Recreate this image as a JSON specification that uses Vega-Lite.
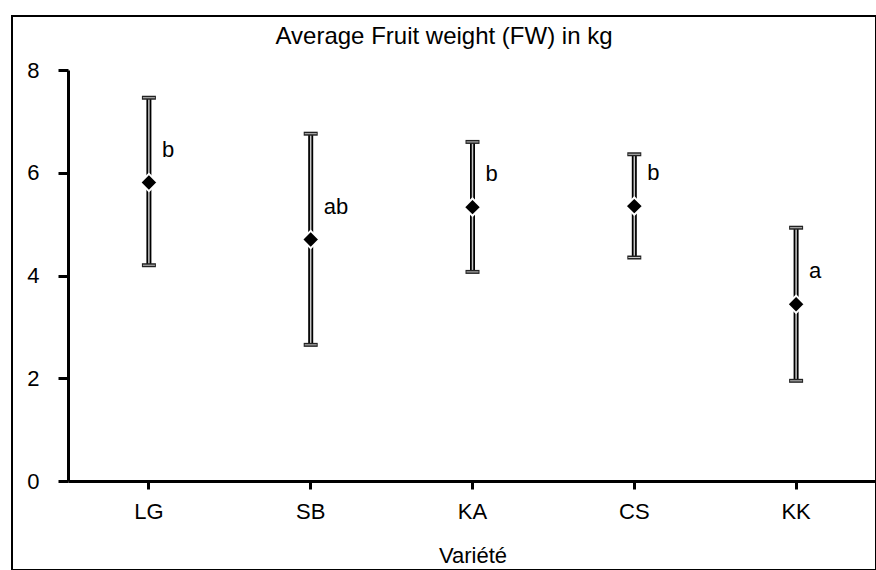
{
  "$schema": "https://vega.github.io/schema/vega-lite/v6.json",
  "width": 864,
  "height": 554,
  "autosize": {"type": "none"},
  "padding": {"left": 12, "top": 16, "right": 0, "bottom": 0},
  "background": "white",
  "config": {
    "view": {"stroke": "black", "strokeWidth": 2},
    "font": "Liberation Sans",
    "axis": {"grid": false}
  },
  "title": {
    "text": "Average Fruit weight (FW) in kg",
    "orient": "top",
    "anchor": "middle",
    "frame": "group",
    "offset": -52,
    "baseline": "alphabetic",
    "fontSize": 24,
    "fontWeight": "normal",
    "font": "Liberation Sans",
    "color": "black"
  },
  "data": {
    "values": [
      {"v": "LG", "mean": 5.81, "low": 4.20, "high": 7.46, "grp": "b"},
      {"v": "SB", "mean": 4.70, "low": 2.65, "high": 6.76, "grp": "ab"},
      {"v": "KA", "mean": 5.33, "low": 4.07, "high": 6.60, "grp": "b"},
      {"v": "CS", "mean": 5.35, "low": 4.35, "high": 6.36, "grp": "b"},
      {"v": "KK", "mean": 3.44, "low": 1.95, "high": 4.93, "grp": "a"}
    ]
  },
  "encoding": {
    "x": {
      "field": "v",
      "type": "nominal",
      "sort": null,
      "scale": {"range": [56, 865], "paddingInner": 0, "paddingOuter": 0},
      "axis": {
        "title": "Variété",
        "offset": -89,
        "labelAngle": 0,
        "labelFontSize": 22,
        "labelColor": "black",
        "labelPadding": 12,
        "tickSize": 8,
        "tickWidth": 3,
        "tickColor": "black",
        "domainWidth": 3,
        "domainColor": "black",
        "titleFontSize": 22,
        "titleFontWeight": "normal",
        "titleColor": "black",
        "titlePadding": 23
      }
    }
  },
  "layer": [
    {
      "mark": {"type": "rule", "stroke": "black", "strokeWidth": 5},
      "encoding": {
        "y": {
          "field": "low",
          "type": "quantitative",
          "scale": {"domain": [0, 8], "range": [465, 54], "nice": false},
          "axis": {
            "title": null,
            "offset": -56,
            "values": [0, 2, 4, 6, 8],
            "format": "d",
            "labelFontSize": 22,
            "labelColor": "black",
            "labelPadding": 19,
            "tickSize": 10,
            "tickWidth": 3,
            "tickColor": "black",
            "domainWidth": 3,
            "domainColor": "black"
          }
        },
        "y2": {"field": "high"}
      }
    },
    {
      "mark": {"type": "rule", "stroke": "#c8c8c8", "strokeWidth": 1.5},
      "encoding": {
        "y": {"field": "low", "type": "quantitative"},
        "y2": {"field": "high"}
      }
    },
    {
      "mark": {"type": "tick", "color": "#222", "size": 14, "thickness": 4, "opacity": 1},
      "encoding": {"y": {"field": "low", "type": "quantitative"}}
    },
    {
      "mark": {"type": "tick", "color": "#c8c8c8", "size": 12, "thickness": 1, "opacity": 1},
      "encoding": {"y": {"field": "low", "type": "quantitative"}}
    },
    {
      "mark": {"type": "tick", "color": "#222", "size": 14, "thickness": 4, "opacity": 1},
      "encoding": {"y": {"field": "high", "type": "quantitative"}}
    },
    {
      "mark": {"type": "tick", "color": "#c8c8c8", "size": 12, "thickness": 1, "opacity": 1},
      "encoding": {"y": {"field": "high", "type": "quantitative"}}
    },
    {
      "mark": {"type": "point", "shape": "diamond", "filled": true, "fill": "black", "stroke": "white", "strokeWidth": 2, "size": 300, "opacity": 1},
      "encoding": {"y": {"field": "mean", "type": "quantitative"}}
    },
    {
      "mark": {"type": "text", "align": "left", "baseline": "alphabetic", "dx": 13, "dy": -26, "fontSize": 22, "color": "black", "font": "Liberation Sans"},
      "encoding": {
        "y": {"field": "mean", "type": "quantitative"},
        "text": {"field": "grp"}
      }
    }
  ]
}
